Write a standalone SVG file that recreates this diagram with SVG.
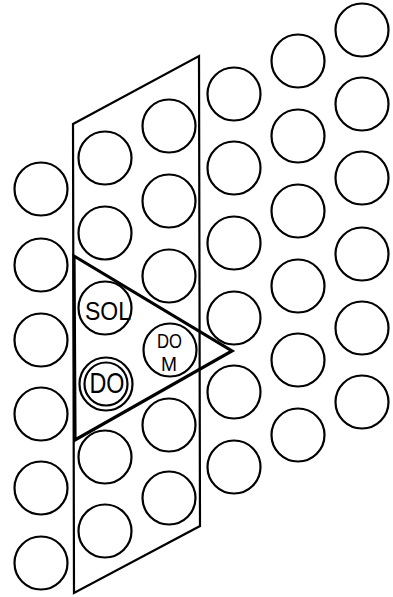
<svg xmlns="http://www.w3.org/2000/svg" width="393" height="597" viewBox="0 0 393 597">
<style>
.k{fill:none;stroke:#000;stroke-width:2.2}
.t{font-family:"Liberation Sans",Arial,sans-serif;fill:#000;text-anchor:middle}
</style>
<defs><circle id="c" r="26.5" class="k"/></defs>
<rect width="393" height="597" fill="#fff"/>
<g id="col1">
<use href="#c" x="41" y="189"/><use href="#c" x="41" y="265"/><use href="#c" x="41" y="340"/>
<use href="#c" x="41" y="414"/><use href="#c" x="41" y="488"/><use href="#c" x="41" y="563"/>
</g>
<g id="col2">
<use href="#c" x="105" y="158"/><use href="#c" x="105" y="233"/>
<use href="#c" x="105" y="457"/><use href="#c" x="105" y="531"/>
</g>
<g id="sol"><use href="#c" x="105" y="308"/>
<text class="t" x="108" y="320" font-size="26" textLength="46" lengthAdjust="spacingAndGlyphs">SOL</text></g>
<g id="do"><use href="#c" x="106" y="384"/><circle cx="106" cy="384" r="21.5" class="k"/>
<text class="t" x="107" y="393" font-size="30" textLength="35" lengthAdjust="spacingAndGlyphs">DO</text></g>
<g id="col3">
<use href="#c" x="169" y="126"/><use href="#c" x="169" y="201"/><use href="#c" x="169" y="276"/>
<use href="#c" x="169" y="425"/><use href="#c" x="169" y="498"/>
</g>
<g id="dom"><use href="#c" x="170" y="350"/>
<text class="t" x="169.5" y="348" font-size="19.5" textLength="25" lengthAdjust="spacingAndGlyphs">DO</text>
<text class="t" x="169" y="370.5" font-size="19.5" textLength="16" lengthAdjust="spacingAndGlyphs">M</text></g>
<g id="col4">
<use href="#c" x="234" y="94"/><use href="#c" x="234" y="168"/><use href="#c" x="234" y="243"/>
<use href="#c" x="234" y="318"/><use href="#c" x="234" y="392"/><use href="#c" x="234" y="467"/>
</g>
<g id="col5">
<use href="#c" x="298" y="61"/><use href="#c" x="298" y="136"/><use href="#c" x="298" y="211"/>
<use href="#c" x="298" y="286"/><use href="#c" x="298" y="360"/><use href="#c" x="298" y="435"/>
</g>
<g id="col6">
<use href="#c" x="362" y="30"/><use href="#c" x="362" y="104"/><use href="#c" x="362" y="178"/>
<use href="#c" x="362" y="254"/><use href="#c" x="362" y="328"/><use href="#c" x="362" y="402"/>
</g>
<g id="frame">
<polygon points="73,124 199,56 200,526 74,593" class="k"/>
<polygon points="74,256 232,351 75,440" fill="none" stroke="#000" stroke-width="3.2" stroke-linejoin="miter"/>
</g>
</svg>
